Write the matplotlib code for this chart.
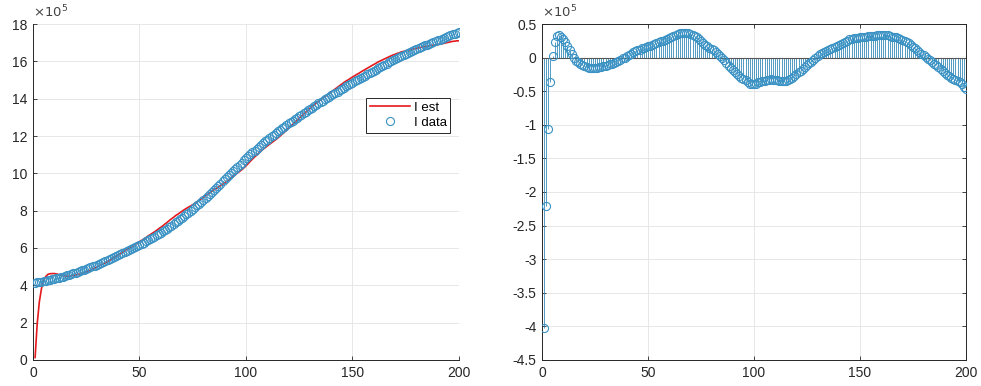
import numpy as np
import matplotlib
matplotlib.use("Agg")
import matplotlib.pyplot as plt
from matplotlib.ticker import FuncFormatter

plt.rcParams['font.family'] = ['Liberation Sans', 'DejaVu Sans']
plt.rcParams['axes.unicode_minus'] = False

# day index
days = list(range(1, 201))

# observed I (units of 1e5)
i_data_e5 = [
    4.15, 4.16, 4.18, 4.20, 4.22, 4.24, 4.27, 4.29, 4.32, 4.35,
    4.38, 4.41, 4.44, 4.47, 4.50, 4.53, 4.57, 4.60, 4.64, 4.68,
    4.72, 4.76, 4.80, 4.84, 4.88, 4.92, 4.96, 5.01, 5.05, 5.10,
    5.15, 5.20, 5.24, 5.29, 5.34, 5.39, 5.44, 5.50, 5.55, 5.60,
    5.66, 5.71, 5.77, 5.82, 5.88, 5.94, 6.00, 6.05, 6.11, 6.17,
    6.23, 6.29, 6.35, 6.42, 6.48, 6.55, 6.61, 6.68, 6.75, 6.82,
    6.89, 6.97, 7.04, 7.12, 7.20, 7.28, 7.37, 7.45, 7.53, 7.62,
    7.71, 7.80, 7.89, 7.98, 8.08, 8.18, 8.28, 8.38, 8.48, 8.58,
    8.69, 8.79, 8.90, 9.01, 9.12, 9.23, 9.34, 9.45, 9.57, 9.68,
    9.79, 9.91, 10.02, 10.14, 10.25, 10.36, 10.47, 10.58, 10.69, 10.80,
    10.91, 11.01, 11.12, 11.22, 11.32, 11.42, 11.52, 11.61, 11.71, 11.80,
    11.89, 11.98, 12.07, 12.16, 12.25, 12.33, 12.42, 12.50, 12.59, 12.67,
    12.75, 12.83, 12.91, 12.99, 13.07, 13.15, 13.22, 13.30, 13.37, 13.45,
    13.52, 13.60, 13.67, 13.75, 13.82, 13.89, 13.96, 14.03, 14.10, 14.17,
    14.24, 14.31, 14.38, 14.45, 14.52, 14.59, 14.66, 14.72, 14.79, 14.86,
    14.92, 14.99, 15.05, 15.12, 15.18, 15.24, 15.31, 15.37, 15.44, 15.50,
    15.56, 15.63, 15.69, 15.76, 15.82, 15.88, 15.94, 16.00, 16.06, 16.12,
    16.18, 16.23, 16.29, 16.34, 16.40, 16.45, 16.50, 16.56, 16.61, 16.66,
    16.71, 16.76, 16.81, 16.85, 16.90, 16.95, 16.99, 17.04, 17.08, 17.13,
    17.17, 17.22, 17.26, 17.31, 17.35, 17.39, 17.44, 17.48, 17.53, 17.57,
]

# residual I est - I data (units of 1e5)
resid_e5 = [
    -4.02, -2.21, -1.06, -0.37, 0.03, 0.23, 0.32, 0.33, 0.31, 0.28,
    0.23, 0.17, 0.11, 0.05, 0.00, -0.05, -0.07, -0.09, -0.11, -0.13,
    -0.14, -0.15, -0.15, -0.15, -0.15, -0.15, -0.14, -0.14, -0.13, -0.12,
    -0.11, -0.10, -0.09, -0.08, -0.06, -0.05, -0.03, -0.01, 0.00, 0.02,
    0.04, 0.06, 0.08, 0.10, 0.11, 0.12, 0.14, 0.15, 0.16, 0.17,
    0.18, 0.19, 0.20, 0.22, 0.23, 0.24, 0.25, 0.26, 0.28, 0.29,
    0.30, 0.32, 0.33, 0.35, 0.36, 0.36, 0.37, 0.36, 0.36, 0.35,
    0.34, 0.32, 0.30, 0.27, 0.24, 0.21, 0.19, 0.17, 0.15, 0.13,
    0.11, 0.08, 0.06, 0.03, 0.00, -0.04, -0.08, -0.12, -0.16, -0.19,
    -0.22, -0.25, -0.27, -0.30, -0.32, -0.34, -0.37, -0.39, -0.40, -0.40,
    -0.39, -0.37, -0.36, -0.35, -0.35, -0.34, -0.33, -0.32, -0.33, -0.335,
    -0.34, -0.345, -0.35, -0.35, -0.35, -0.33, -0.32, -0.30, -0.28, -0.25,
    -0.22, -0.20, -0.17, -0.14, -0.11, -0.08, -0.06, -0.03, 0.00, 0.025,
    0.05, 0.07, 0.09, 0.10, 0.115, 0.13, 0.145, 0.16, 0.175, 0.19,
    0.20, 0.215, 0.23, 0.25, 0.27, 0.28, 0.285, 0.29, 0.295, 0.30,
    0.305, 0.31, 0.31, 0.315, 0.32, 0.32, 0.325, 0.33, 0.33, 0.33,
    0.335, 0.335, 0.33, 0.32, 0.31, 0.305, 0.30, 0.29, 0.275, 0.26,
    0.245, 0.23, 0.22, 0.19, 0.165, 0.14, 0.115, 0.09, 0.06, 0.035,
    0.01, -0.015, -0.04, -0.065, -0.09, -0.115, -0.14, -0.17, -0.20, -0.23,
    -0.255, -0.28, -0.30, -0.315, -0.33, -0.35, -0.37, -0.40, -0.43, -0.47,
]

x = np.array(days)
i_data = np.array(i_data_e5) * 1e5
resid = np.array(resid_e5) * 1e5
i_est = i_data + resid

axis_col = '#262626'
grid_col = '#e3e3e3'
stem_col = '#3589b8'
circ_col = '#3a92c4'

fig = plt.figure(figsize=(9.81, 3.86), dpi=100)
ax1 = fig.add_axes([0.0336, 0.0674, 0.4343, 0.8704])
ax2 = fig.add_axes([0.5525, 0.0674, 0.4322, 0.8704])

fmt = FuncFormatter(lambda v, p: '%g' % round(v / 1e5, 6))

def style(ax, box):
    ax.grid(True, color=grid_col, linewidth=0.6)
    ax.set_axisbelow(True)
    for s in ax.spines.values():
        s.set_color(axis_col)
        s.set_linewidth(0.7)
    if not box:
        ax.spines['top'].set_visible(False)
        ax.spines['right'].set_visible(False)
    ax.tick_params(direction='in', length=3, width=0.6, colors=axis_col,
                   labelsize=10, top=box, right=box, pad=4)
    ax.yaxis.set_major_formatter(fmt)
    ax.text(0.0, 1.012, r'$\times10^{5}$', transform=ax.transAxes,
            fontsize=9.5, color='#444444', ha='left', va='bottom')

# left: fit vs data
ax1.plot(x, i_est, color='#e3191c', linewidth=1.2, label='I est', zorder=3)
ax1.plot(x, i_data, linestyle='none', marker='o', markersize=5.8,
         markerfacecolor='none', markeredgecolor=circ_col,
         markeredgewidth=0.8, label='I data', zorder=4)
ax1.set_xlim(0, 200)
ax1.set_ylim(0, 18e5)
ax1.set_xticks([0, 50, 100, 150, 200])
ax1.set_yticks(np.arange(0, 18.1, 2) * 1e5)
style(ax1, box=False)
leg = ax1.legend(loc='upper right', bbox_to_anchor=(0.98, 0.78), fontsize=9.5,
                 fancybox=False, framealpha=1, edgecolor=axis_col,
                 handlelength=3.0, borderpad=0.3, labelspacing=0.2,
                 handletextpad=0.3, borderaxespad=0)
leg.get_frame().set_linewidth(0.7)

# right: residuals as stems
ml, sl, bl = ax2.stem(x, resid, linefmt='-', markerfmt='o', basefmt='-')
sl.set_colors(stem_col)
sl.set_linewidth(0.6)
sl.set_zorder(2)
plt.setp(ml, markerfacecolor='none', markeredgecolor=circ_col,
         markersize=5.8, markeredgewidth=0.8, zorder=4)
plt.setp(bl, color='#555555', linewidth=0.8, zorder=3)
ax2.set_xlim(0, 200)
ax2.set_ylim(-4.5e5, 0.5e5)
ax2.set_xticks([0, 50, 100, 150, 200])
ax2.set_yticks(np.arange(-4.5, 0.51, 0.5) * 1e5)
style(ax2, box=True)

fig.savefig('out.png', dpi=100)
